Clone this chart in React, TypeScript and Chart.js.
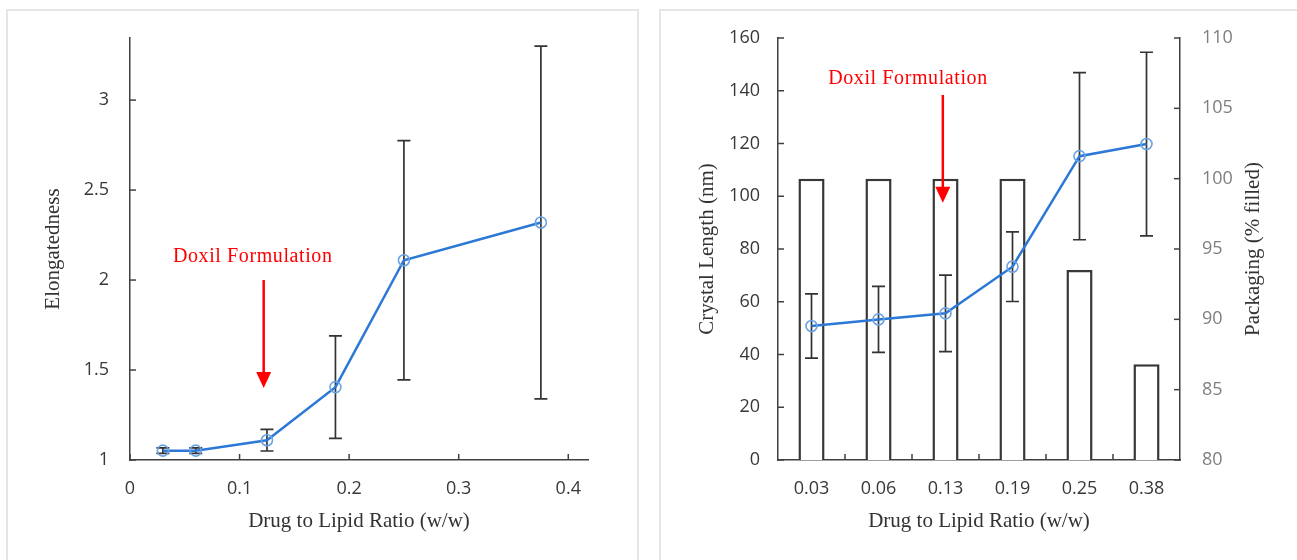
import React, { useEffect, useRef } from 'react';
import { Chart, registerables } from 'chart.js';
Chart.register(...registerables);

// ---------- Data ----------
// Left panel: elongatedness vs drug-to-lipid ratio
const L_X = [0.03, 0.06, 0.125, 0.1875, 0.25, 0.375];
const L_Y = [1.052, 1.052, 1.11, 1.405, 2.11, 2.32];
const L_ERR = [0.015, 0.015, 0.06, 0.285, 0.665, 0.98];

// Right panel: crystal length (line) and packaging (bars)
const R_CATS = ['0.03', '0.06', '0.13', '0.19', '0.25', '0.38'];
const R_LEN = [50.8, 53.3, 55.6, 73.3, 115.2, 119.8];
const R_LEN_ERR = [12.2, 12.5, 14.5, 13.2, 31.7, 34.8];
const R_PACK = [100, 100, 100, 100, 93.5, 86.8];

// Annotation ("Doxil Formulation") positions in data units
const L_NOTE = { textX: 0.112, textY: 2.13, arrowX: 0.122, arrowTop: 2.0, arrowTip: 1.4 };
const R_NOTE = { textIdx: 1.44, textY: 144.5, arrowIdx: 1.96, arrowTop: 138.4, arrowTip: 97.5 };

const AXIS = '#404040';
const LABEL = '#383838';
const LINE_BLUE = '#2b78d6';
const MARK_BLUE = '#6aa3e6';
const TICK_FONT = { family: 'Open Sans', size: 18 };
const SERIF = 'Liberation Serif';
const NO_GRID = { display: false, drawTicks: false };
const fmt = (v: any) => String(Math.round(Number(v) * 100) / 100);

// ---------- Plugins ----------
const errorBarPlugin = {
  id: 'errorBars',
  beforeDatasetDraw(chart: any, args: any, opts: any) {
    if (!opts || args.index !== opts.datasetIndex) return;
    const meta = chart.getDatasetMeta(args.index);
    const ys = chart.scales[meta.yAxisID];
    const ctx = chart.ctx;
    ctx.save();
    ctx.strokeStyle = '#333';
    ctx.lineWidth = 1.7;
    meta.data.forEach((el: any, i: number) => {
      const v = opts.values[i];
      const e = opts.errors[i];
      const x = el.x;
      const y1 = ys.getPixelForValue(v + e);
      const y2 = ys.getPixelForValue(v - e);
      ctx.beginPath();
      ctx.moveTo(x, y1); ctx.lineTo(x, y2);
      ctx.moveTo(x - 6.5, y1); ctx.lineTo(x + 6.5, y1);
      ctx.moveTo(x - 6.5, y2); ctx.lineTo(x + 6.5, y2);
      ctx.stroke();
    });
    ctx.restore();
  },
};

const innerTickPlugin = {
  id: 'innerTicks',
  afterDatasetsDraw(chart: any, _a: any, opts: any) {
    if (!opts || !opts.axes) return;
    const ctx = chart.ctx;
    const area = chart.chartArea;
    ctx.save();
    ctx.strokeStyle = AXIS;
    ctx.lineWidth = 1.5;
    const len = 6;
    opts.axes.forEach((ax: any) => {
      const s = chart.scales[ax.id];
      if (ax.side === 'left' || ax.side === 'right') {
        s.ticks.forEach((t: any) => {
          const y = s.getPixelForValue(t.value);
          const x0 = ax.side === 'left' ? area.left : area.right;
          ctx.beginPath();
          ctx.moveTo(x0, y);
          ctx.lineTo(ax.side === 'left' ? x0 + len : x0 - len, y);
          ctx.stroke();
        });
      } else if (ax.side === 'bottom') {
        let xs: number[] = [];
        if (ax.boundaries) {
          const n = s.ticks.length;
          for (let i = 1; i < n; i++) xs.push((s.getPixelForValue(i - 1) + s.getPixelForValue(i)) / 2);
        } else {
          xs = s.ticks.map((t: any) => s.getPixelForValue(t.value));
        }
        xs.forEach((x) => {
          ctx.beginPath();
          ctx.moveTo(x, area.bottom);
          ctx.lineTo(x, area.bottom - len);
          ctx.stroke();
        });
      }
    });
    ctx.restore();
  },
};

function drawRotated(ctx: any, text: string, x: number, y: number) {
  ctx.save();
  ctx.translate(x, y);
  ctx.rotate(-Math.PI / 2);
  ctx.textAlign = 'center';
  ctx.textBaseline = 'middle';
  ctx.fillText(text, 0, 0);
  ctx.restore();
}

function drawNote(ctx: any, tx: number, ty: number, ax: number, aTop: number, aTip: number) {
  ctx.save();
  ctx.fillStyle = '#ff0000';
  ctx.strokeStyle = '#ff0000';
  ctx.font = `20px "${SERIF}"`;
  try { ctx.letterSpacing = '0.6px'; } catch (e) {}
  ctx.textAlign = 'center';
  ctx.textBaseline = 'middle';
  ctx.fillText('Doxil Formulation', tx, ty);
  try { ctx.letterSpacing = '0px'; } catch (e) {}
  ctx.lineWidth = 2.5;
  ctx.beginPath();
  ctx.moveTo(ax, aTop);
  ctx.lineTo(ax, aTip - 14);
  ctx.stroke();
  ctx.beginPath();
  ctx.moveTo(ax - 7.5, aTip - 16);
  ctx.lineTo(ax + 7.5, aTip - 16);
  ctx.lineTo(ax, aTip);
  ctx.closePath();
  ctx.fill();
  ctx.restore();
}

const textPlugin = {
  id: 'texts',
  afterDraw(chart: any, _a: any, opts: any) {
    if (!opts) return;
    const ctx = chart.ctx;
    const a = chart.chartArea;
    ctx.save();
    ctx.fillStyle = '#333333';
    ctx.font = `21px "${SERIF}"`;
    (opts.yTitles || []).forEach((t: any) => drawRotated(ctx, t.text, t.x, (a.top + a.bottom) / 2));
    ctx.textAlign = 'center';
    ctx.textBaseline = 'middle';
    ctx.fillText(opts.xTitle, (a.left + a.right) / 2, 521);
    ctx.restore();
    if (opts.note === 'left') {
      const xs = chart.scales.x, ys = chart.scales.y;
      drawNote(ctx, xs.getPixelForValue(L_NOTE.textX), ys.getPixelForValue(L_NOTE.textY),
        xs.getPixelForValue(L_NOTE.arrowX), ys.getPixelForValue(L_NOTE.arrowTop), ys.getPixelForValue(L_NOTE.arrowTip));
    } else if (opts.note === 'right') {
      const xs = chart.scales.x, ys = chart.scales.y;
      const p0 = xs.getPixelForValue(0), step = xs.getPixelForValue(1) - p0;
      drawNote(ctx, p0 + R_NOTE.textIdx * step, ys.getPixelForValue(R_NOTE.textY),
        p0 + R_NOTE.arrowIdx * step, ys.getPixelForValue(R_NOTE.arrowTop), ys.getPixelForValue(R_NOTE.arrowTip));
    }
  },
};

// ---------- Charts ----------
function LeftChart() {
  const ref = useRef<HTMLCanvasElement>(null);
  useEffect(() => {
    const chart = new Chart(ref.current!, {
      type: 'line',
      data: {
        datasets: [{
          data: L_X.map((x, i) => ({ x, y: L_Y[i] })),
          borderColor: LINE_BLUE,
          borderWidth: 2.5,
          tension: 0,
          pointRadius: 5.5,
          pointBorderWidth: 1.6,
          pointBorderColor: MARK_BLUE,
          pointBackgroundColor: 'rgba(0,0,0,0)',
          fill: false,
        }],
      },
      options: {
        animation: false,
        responsive: false,
        maintainAspectRatio: false,
        layout: { padding: { left: 0, right: 60, top: 38, bottom: 0 } },
        scales: {
          x: {
            type: 'linear', min: 0, max: 0.418,
            grid: NO_GRID,
            border: { display: true, color: AXIS, width: 1.5 },
            ticks: { stepSize: 0.1, includeBounds: false, padding: 18, color: LABEL, font: TICK_FONT, maxRotation: 0, callback: fmt },
            afterFit: (s: any) => { s.height = 100; },
          },
          y: {
            type: 'linear', min: 1, max: 3.345,
            grid: NO_GRID,
            border: { display: true, color: AXIS, width: 1.5 },
            ticks: { stepSize: 0.5, includeBounds: false, padding: 21, color: LABEL, font: TICK_FONT, callback: fmt },
            afterFit: (s: any) => { s.width = 130; },
          },
        },
        plugins: {
          legend: { display: false },
          tooltip: { enabled: false },
          errorBars: { datasetIndex: 0, values: L_Y, errors: L_ERR },
          innerTicks: { axes: [{ id: 'y', side: 'left' }, { id: 'x', side: 'bottom' }] },
          texts: { yTitles: [{ text: 'Elongatedness', x: 53 }], xTitle: 'Drug to Lipid Ratio (w/w)', note: 'left' },
        } as any,
      },
      plugins: [errorBarPlugin, innerTickPlugin, textPlugin],
    } as any);
    return () => chart.destroy();
  }, []);
  return <canvas ref={ref} width={648} height={560} style={{ position: 'absolute', left: 0, top: 0, width: 648, height: 560 }} />;
}

function RightChart() {
  const ref = useRef<HTMLCanvasElement>(null);
  useEffect(() => {
    const chart = new Chart(ref.current!, {
      type: 'bar',
      data: {
        labels: R_CATS,
        datasets: [
          {
            type: 'line',
            data: R_LEN,
            yAxisID: 'y',
            order: 0,
            borderColor: LINE_BLUE,
            borderWidth: 2.5,
            tension: 0,
            pointRadius: 5.5,
            pointBorderWidth: 1.6,
            pointBorderColor: MARK_BLUE,
            pointBackgroundColor: 'rgba(0,0,0,0)',
            fill: false,
          },
          {
            type: 'bar',
            data: R_PACK,
            yAxisID: 'y1',
            order: 1,
            backgroundColor: '#ffffff',
            borderColor: '#383838',
            borderWidth: 2.5,
            barPercentage: 0.39,
            categoryPercentage: 1,
          },
        ],
      },
      options: {
        animation: false,
        responsive: false,
        maintainAspectRatio: false,
        layout: { padding: { left: 0, right: 0, top: 38, bottom: 0 } },
        scales: {
          x: {
            type: 'category',
            offset: true,
            grid: { ...NO_GRID, offset: true },
            border: { display: true, color: AXIS, width: 1.5 },
            ticks: { padding: 18, color: LABEL, font: TICK_FONT, maxRotation: 0, autoSkip: false },
            afterFit: (s: any) => { s.height = 100; },
          },
          y: {
            type: 'linear', position: 'left', min: 0, max: 160,
            grid: NO_GRID,
            border: { display: true, color: AXIS, width: 1.5 },
            ticks: { stepSize: 20, padding: 18, color: LABEL, font: TICK_FONT, callback: fmt },
            afterFit: (s: any) => { s.width = 130; },
          },
          y1: {
            type: 'linear', position: 'right', min: 80, max: 110,
            grid: NO_GRID,
            border: { display: true, color: AXIS, width: 1.5 },
            ticks: { stepSize: 5, padding: 22, color: '#7f7f7f', font: TICK_FONT, callback: fmt },
            afterFit: (s: any) => { s.width = 117; },
          },
        },
        plugins: {
          legend: { display: false },
          tooltip: { enabled: false },
          errorBars: { datasetIndex: 0, values: R_LEN, errors: R_LEN_ERR },
          innerTicks: { axes: [{ id: 'y', side: 'left' }, { id: 'y1', side: 'right' }, { id: 'x', side: 'bottom', boundaries: true }] },
          texts: {
            yTitles: [{ text: 'Crystal Length (nm)', x: 59 }, { text: 'Packaging (% filled)', x: 605 }],
            xTitle: 'Drug to Lipid Ratio (w/w)',
            note: 'right',
          },
        } as any,
      },
      plugins: [errorBarPlugin, innerTickPlugin, textPlugin],
    } as any);
    return () => chart.destroy();
  }, []);
  return <canvas ref={ref} width={649} height={560} style={{ position: 'absolute', left: 648, top: 0, width: 649, height: 560 }} />;
}

export default function App() {
  const panel = (left: number, width: number) => ({
    position: 'absolute' as const,
    left, top: 9, width, height: 600,
    border: '2px solid #e6e6e6',
    boxSizing: 'border-box' as const,
  });
  return (
    <div style={{ position: 'fixed', left: 0, top: 0, width: 1297, height: 560, background: '#ffffff', overflow: 'hidden' }}>
      <div style={panel(6, 633)} />
      <div style={panel(659, 640)} />
      <LeftChart />
      <RightChart />
    </div>
  );
}
